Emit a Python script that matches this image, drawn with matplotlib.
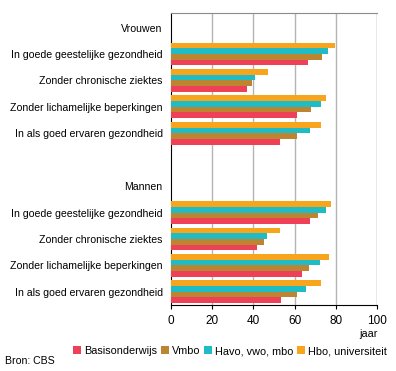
import matplotlib.pyplot as plt
import numpy as np

plt.rcParams['font.family'] = ['Liberation Sans', 'DejaVu Sans']

categories = ['In goede geestelijke gezondheid', 'Zonder chronische ziektes',
              'Zonder lichamelijke beperkingen', 'In als goed ervaren gezondheid']
groups = ['Vrouwen', 'Mannen']
series = ['Basisonderwijs', 'Vmbo', 'Havo, vwo, mbo', 'Hbo, universiteit']
colors = ['#ee4157', '#bd8532', '#1fbcc6', '#f8a51e']

vrouwen = {
    'Basisonderwijs': [66.5, 36.9, 61.2, 52.9],
    'Vmbo': [73.3, 39.3, 68.0, 61.2],
    'Havo, vwo, mbo': [76.2, 40.8, 72.8, 67.5],
    'Hbo, universiteit': [79.6, 47.1, 75.2, 72.8],
}
mannen = {
    'Basisonderwijs': [67.5, 41.7, 63.6, 53.4],
    'Vmbo': [71.4, 45.1, 67.0, 61.2],
    'Havo, vwo, mbo': [75.2, 46.6, 72.3, 65.5],
    'Hbo, universiteit': [77.7, 52.9, 76.7, 72.8],
}

fig = plt.figure(figsize=(3.96, 3.71), dpi=100)
ax = fig.add_axes([171 / 396, 1 - 305 / 371, 206 / 396, 292 / 371])

rows_v = np.arange(1, 5)
rows_m = np.arange(7, 11)
bar_h = 0.215
for k, s in enumerate(series):
    off = (1.5 - k) * bar_h
    ax.barh(rows_v + off, vrouwen[s], height=bar_h, color=colors[k], label=s, zorder=3)
    ax.barh(rows_m + off, mannen[s], height=bar_h, color=colors[k], zorder=3)

ax.set_ylim(10.5, -0.55)
ax.set_xlim(0, 100)
ax.set_yticks([0] + list(rows_v) + [6] + list(rows_m))
ax.set_yticklabels([groups[0]] + categories + [groups[1]] + categories, fontsize=7.6)
ax.tick_params(axis='y', length=0, pad=6)
ax.set_xticks([0, 20, 40, 60, 80, 100])
ax.tick_params(axis='x', labelsize=8.5, length=3, direction='out', color='black', pad=4)

for x in [20, 40, 60, 80]:
    ax.axvline(x, color='#b4b4b4', lw=1, zorder=1)
ax.spines['right'].set_visible(False)
ax.axvline(100, color='#8a8a8a', lw=1, zorder=1)
ax.spines['top'].set_color('#8a8a8a')
ax.spines['left'].set_color('black')
ax.spines['bottom'].set_color('black')

fig.text(368 / 396, 1 - 334 / 371, 'jaar', fontsize=7.8, ha='center', va='center')
fig.text(5 / 396, 1 - 361 / 371, 'Bron: CBS', fontsize=7.6, ha='left', va='center')

fig.legend(loc='center left', bbox_to_anchor=(73 / 396, 1 - 351 / 371), ncol=4, frameon=False,
           fontsize=7.8, handlelength=0.75, handleheight=0.75, handletextpad=0.3, columnspacing=0.3,
           borderaxespad=0, borderpad=0)

fig.savefig('out.png', dpi=100)
